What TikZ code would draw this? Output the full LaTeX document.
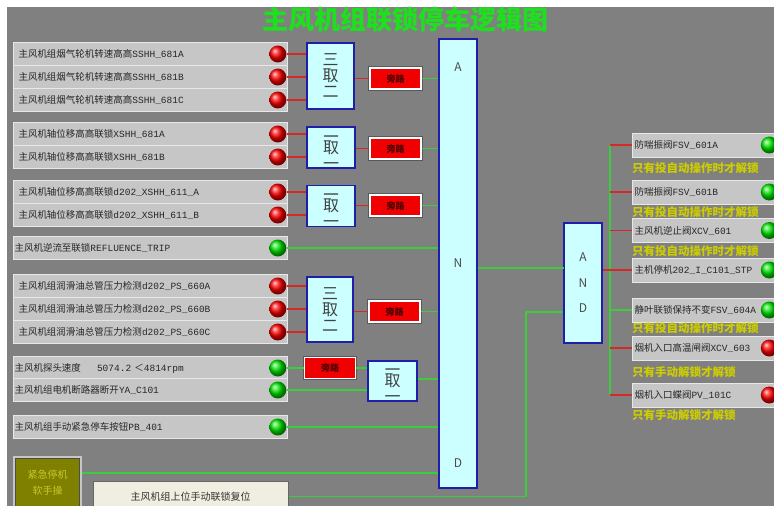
\documentclass[tikz,border=0pt]{standalone}
\usepackage{fontspec}
\setmainfont{Noto Sans CJK SC}
\newfontfamily\tagfont{Liberation Mono}
\usetikzlibrary{positioning}

\definecolor{bggray}{RGB}{128,128,128}
\definecolor{panelgray}{RGB}{198,198,198}
\definecolor{panelline}{RGB}{232,232,232}
\definecolor{gatecyan}{RGB}{204,255,255}
\definecolor{gateblue}{RGB}{30,30,170}
\definecolor{bypassred}{RGB}{240,0,0}
\definecolor{wirered}{RGB}{215,40,40}
\definecolor{wiregreen}{RGB}{60,205,60}
\definecolor{titlegreen}{RGB}{30,225,30}
\definecolor{noteyellow}{RGB}{205,205,0}
\definecolor{olivebtn}{RGB}{128,128,0}
\definecolor{olivetext}{RGB}{200,200,40}
\definecolor{beige}{RGB}{240,238,224}

\begin{document}
\begin{tikzpicture}[x=1pt, y=-1pt,
    panel/.style={fill=panelgray, draw=panelline, line width=1pt, anchor=west, minimum height=23pt, text width=264pt, inner xsep=5pt, inner ysep=0pt, align=left, text=black!85, font=\fontsize{9.5}{11}\selectfont},
    panelx/.style={panel, inner xsep=1pt, text width=272pt},
    rpanel/.style={panel, minimum height=24pt, inner xsep=2pt, text width=141pt},
    led/.style={circle, minimum size=17pt, inner sep=0pt},
    redled/.style={led, ball color=red},
    grnled/.style={led, ball color=green!90!black},
    gate/.style={draw=gateblue, line width=1.5pt, fill=gatecyan, inner sep=0pt},
    vote/.style={gate, path picture={\node[align=center, text=black!75, font=\fontsize{16}{16}\selectfont] (vt) at (path picture bounding box.center) {#1};}},
    gatechar/.style={text=black!70, font=\fontsize{12}{12}\selectfont},
    bypass/.style={preaction={draw=black!65, line width=3.5pt}, fill=bypassred, draw=white, line width=1.5pt, minimum width=51pt, minimum height=21pt, inner sep=0pt, text=red!30!black, font=\bfseries\fontsize{9}{10}\selectfont},
    rline/.style={draw=wirered, line width=1.5pt},
    gline/.style={draw=wiregreen, line width=1.5pt},
    note/.style={anchor=west, inner sep=0pt, text=noteyellow, font=\bfseries\fontsize{11.5}{12}\selectfont}
]
\clip (0,0) rectangle (774,506);
\fill[white] (0,0) rectangle (774,506);
\fill[bggray] (7,7) rectangle (774,506);

\node[text=titlegreen, font=\bfseries\fontsize{26}{28}\selectfont] (title) at (405,20) {主风机组联锁停车逻辑图};

\node[panel] (r1) at (13,54) {主风机组烟气轮机转速高高{\tagfont SSHH\_681A}};
\node[panel] (r2) at (13,77) {主风机组烟气轮机转速高高{\tagfont SSHH\_681B}};
\node[panel] (r3) at (13,100) {主风机组烟气轮机转速高高{\tagfont SSHH\_681C}};
\node[panel] (r4) at (13,134) {主风机轴位移高高联锁{\tagfont XSHH\_681A}};
\node[panel] (r5) at (13,157) {主风机轴位移高高联锁{\tagfont XSHH\_681B}};
\node[panel] (r6) at (13,192) {主风机轴位移高高联锁{\tagfont d202\_XSHH\_611\_A}};
\node[panel] (r7) at (13,215) {主风机轴位移高高联锁{\tagfont d202\_XSHH\_611\_B}};
\node[panelx] (r8) at (13,248) {主风机逆流至联锁{\tagfont REFLUENCE\_TRIP}};
\node[panel] (r9) at (13,286) {主风机组润滑油总管压力检测{\tagfont d202\_PS\_660A}};
\node[panel] (r10) at (13,309) {主风机组润滑油总管压力检测{\tagfont d202\_PS\_660B}};
\node[panel] (r11) at (13,332) {主风机组润滑油总管压力检测{\tagfont d202\_PS\_660C}};
\node[panelx] (r12) at (13,368) {主风机探头速度\hspace{16pt}{\tagfont 5074.2} ＜{\tagfont 4814rpm}};
\node[panelx] (r13) at (13,390) {主风机组电机断路器断开{\tagfont YA\_C101}};
\node[panelx] (r14) at (13,427) {主风机组手动紧急停车按钮{\tagfont PB\_401}};

\node[redled, left=1.5pt of r1.east] (l1) {};
\node[redled, left=1.5pt of r2.east] (l2) {};
\node[redled, left=1.5pt of r3.east] (l3) {};
\node[redled, left=1.5pt of r4.east] (l4) {};
\node[redled, left=1.5pt of r5.east] (l5) {};
\node[redled, left=1.5pt of r6.east] (l6) {};
\node[redled, left=1.5pt of r7.east] (l7) {};
\node[grnled, left=1.5pt of r8.east] (l8) {};
\node[redled, left=1.5pt of r9.east] (l9) {};
\node[redled, left=1.5pt of r10.east] (l10) {};
\node[redled, left=1.5pt of r11.east] (l11) {};
\node[grnled, left=1.5pt of r12.east] (l12) {};
\node[grnled, left=1.5pt of r13.east] (l13) {};
\node[grnled, left=1.5pt of r14.east] (l14) {};

\node[vote={三\\取\\二}, minimum width=47pt, minimum height=66pt] (b1) at (330.5,76) {};
\node[vote={二\\取\\一}, minimum width=48pt, minimum height=41pt] (b2) at (331,147.5) {};
\node[vote={二\\取\\一}, minimum width=48pt, minimum height=41pt] (b3) at (331,206) {};
\node[vote={三\\取\\二}, minimum width=46pt, minimum height=65pt] (b4) at (330,309.5) {};
\node[vote={二\\取\\一}, minimum width=49pt, minimum height=40pt] (b5) at (392.5,381) {};

\node[bypass] (p1) at (395.5,78.5) {旁路};
\node[bypass] (p2) at (395.5,148.5) {旁路};
\node[bypass] (p3) at (395.5,205.5) {旁路};
\node[bypass] (p4) at (394.5,311.5) {旁路};
\node[bypass] (p5) at (330,368) {旁路};

\node[gate, minimum width=38pt, minimum height=449pt] (and1) at (458,263.5) {};
\node[gatechar] (and1a) at (458,67) {A};
\node[gatechar] (and1n) at (458,263) {N};
\node[gatechar] (and1d) at (458,463) {D};

\node[gate, minimum width=38pt, minimum height=120pt] (and2) at (583,283) {};
\node[gatechar] (and2a) at (583,257) {A};
\node[gatechar] (and2n) at (583,283) {N};
\node[gatechar] (and2d) at (583,308) {D};

\node[fill=olivebtn, draw=black!70, line width=1pt, preaction={draw=panelgray, line width=5pt}, minimum width=64pt, minimum height=49pt, align=center, text=olivetext, font=\fontsize{10}{16}\selectfont] (soft) at (47.5,483) {紧急停机\\软手操};
\node[fill=beige, draw=black!60, line width=1pt, minimum width=195pt, minimum height=30pt, text=black!80, font=\fontsize{10}{12}\selectfont] (reset) at (190.5,496.5) {主风机组上位手动联锁复位};

\node[rpanel] (q1) at (632,145) {防喘振阀{\tagfont FSV\_601A}};
\node[rpanel] (q2) at (632,192) {防喘振阀{\tagfont FSV\_601B}};
\node[rpanel] (q3) at (632,230.5) {主风机逆止阀{\tagfont XCV\_601}};
\node[rpanel] (q4) at (632,270) {主机停机{\tagfont 202\_I\_C101\_STP}};
\node[rpanel] (q5) at (632,310) {静叶联锁保持不变{\tagfont FSV\_604A}};
\node[rpanel] (q6) at (632,348) {烟机入口高温闸阀{\tagfont XCV\_603}};
\node[rpanel] (q7) at (632,395) {烟机入口蝶阀{\tagfont PV\_101C}};

\node[grnled, left=0pt of q1.east] (m1) {};
\node[grnled, left=0pt of q2.east] (m2) {};
\node[grnled, left=0pt of q3.east] (m3) {};
\node[grnled, left=0pt of q4.east] (m4) {};
\node[grnled, left=0pt of q5.east] (m5) {};
\node[redled, left=0pt of q6.east] (m6) {};
\node[redled, left=0pt of q7.east] (m7) {};

\node[note] (n1) at (632,168) {只有投自动操作时才解锁};
\node[note] (n2) at (632,212) {只有投自动操作时才解锁};
\node[note] (n3) at (632,251) {只有投自动操作时才解锁};
\node[note] (n4) at (632,328) {只有投自动操作时才解锁};
\node[note] (n5) at (632,372) {只有手动解锁才解锁};
\node[note] (n6) at (632,415) {只有手动解锁才解锁};

\draw[rline] (l1.east) -- (l1 -| b1.west);
\draw[rline] (l2.east) -- (l2 -| b1.west);
\draw[rline] (l3.east) -- (l3 -| b1.west);
\draw[rline] (b1.east |- p1) -- (p1.west);
\draw[gline] (p1.east) -- (p1 -| and1.west);

\draw[rline] (l4.east) -- (l4 -| b2.west);
\draw[rline] (l5.east) -- (l5 -| b2.west);
\draw[rline] (b2.east |- p2) -- (p2.west);
\draw[gline] (p2.east) -- (p2 -| and1.west);

\draw[rline] (l6.east) -- (l6 -| b3.west);
\draw[rline] (l7.east) -- (l7 -| b3.west);
\draw[rline] (b3.east |- p3) -- (p3.west);
\draw[gline] (p3.east) -- (p3 -| and1.west);

\draw[gline] (l8.east) -- (l8 -| and1.west);

\draw[rline] (l9.east) -- (l9 -| b4.west);
\draw[rline] (l10.east) -- (l10 -| b4.west);
\draw[rline] (l11.east) -- (l11 -| b4.west);
\draw[rline] (b4.east |- p4) -- (p4.west);
\draw[gline] (p4.east) -- (p4 -| and1.west);

\draw[gline] (l12.east) -- (p5.west);
\draw[gline] (p5.east) -- (p5 -| b5.west);
\draw[gline] (l13.east) -- (l13 -| b5.west);
\draw[gline] (b5.east |- 0,379) -- (and1.west |- 0,379);

\draw[gline] (l14.east) -- (l14 -| and1.west);

\coordinate (softo) at (82,473);
\draw[gline] (softo) -- (softo -| and1.west);
\coordinate (rstk) at (526,312);
\draw[gline] (reset.east) -| (rstk) -- (rstk -| and2.west);
\coordinate (and2i) at (564,268);
\draw[gline] (and2i -| and1.east) -- (and2i);

\coordinate (bustop) at (610,145);
\coordinate (busbot) at (610,395);
\draw[gline] (bustop) -- (busbot);
\draw[rline] (q1.west -| bustop) -- (q1.west);
\draw[rline] (q2.west -| bustop) -- (q2.west);
\draw[rline] (q3.west -| bustop) -- (q3.west);
\draw[rline] (q4.west -| and2.east) -- (q4.west);
\draw[gline] (q5.west -| bustop) -- (q5.west);
\draw[rline] (q6.west -| bustop) -- (q6.west);
\draw[rline] (q7.west -| bustop) -- (q7.west);
\end{tikzpicture}
\end{document}
